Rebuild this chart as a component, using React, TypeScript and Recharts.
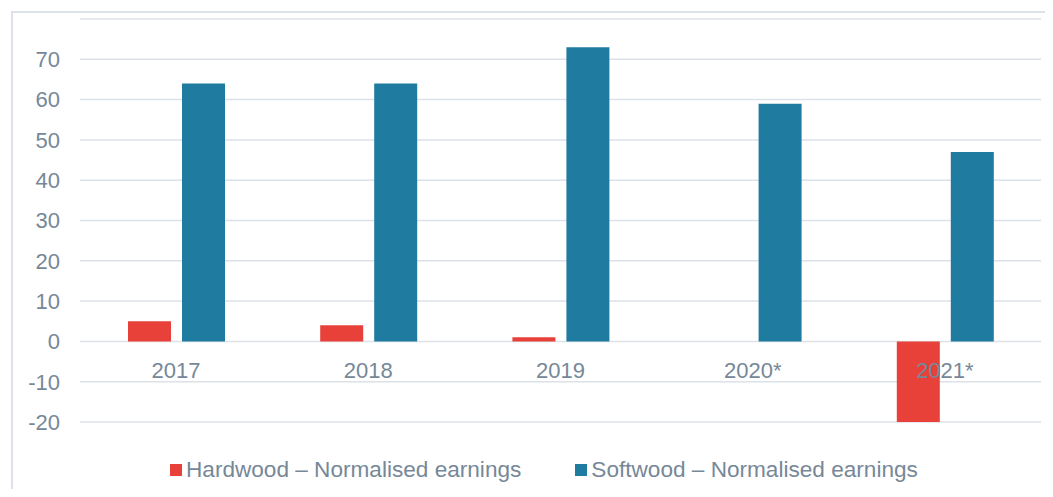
import {
  BarChart,
  Bar,
  XAxis,
  YAxis,
  CartesianGrid,
  Legend,
} from "recharts";

const years = ["2017", "2018", "2019", "2020*", "2021*"];
const hardwood = [5, 4, 1, 0, -20];
const softwood = [64, 64, 73, 59, 47];
const yTicks = [-20, -10, 0, 10, 20, 30, 40, 50, 60, 70];

const data = years.map((year, i) => ({
  year,
  hardwood: hardwood[i],
  softwood: softwood[i],
}));

const RED = "#e8413a";
const BLUE = "#1f7ba0";
const TEXT = "#768898";
const GRID = "#dce2e7";
const FONT = "'Liberation Sans', Arial, sans-serif";

// x labels sit just under the zero line, not at the bottom of the plot
function YearTick(props: any) {
  const { x, y, payload } = props;
  return (
    <text
      x={x}
      y={y - 54}
      textAnchor="middle"
      dominantBaseline="central"
      fill={TEXT}
      fontSize={22}
      fontFamily={FONT}
    >
      {payload.value}
    </text>
  );
}

function LegendBox() {
  const items = [
    { label: "Hardwood \u2013 Normalised earnings", color: RED },
    { label: "Softwood \u2013 Normalised earnings", color: BLUE },
  ];
  return (
    <div
      style={{
        display: "flex",
        alignItems: "center",
        height: 26,
        paddingLeft: 170,
        fontFamily: FONT,
        fontSize: 22.6,
        color: TEXT,
      }}
    >
      {items.map((it, i) => (
        <div
          key={it.label}
          style={{ display: "flex", alignItems: "center", marginLeft: i ? 54 : 0 }}
        >
          <span
            style={{ width: 12, height: 12, background: it.color, marginRight: 4 }}
          />
          <span style={{ whiteSpace: "nowrap" }}>{it.label}</span>
        </div>
      ))}
    </div>
  );
}

export default function App() {
  return (
    <div
      style={{
        margin: -8,
        width: 1053,
        height: 497,
        position: "relative",
        overflow: "hidden",
        background: "#fff",
      }}
    >
      <div
        style={{
          position: "absolute",
          left: 11,
          top: 11,
          width: 1100,
          height: 600,
          border: `2px solid ${GRID}`,
        }}
      />
      <div style={{ position: "absolute", left: 0, top: 0 }}>
        <BarChart
          width={1053}
          height={497}
          data={data}
          margin={{ top: 19, right: 12, bottom: 14, left: 0 }}
          barSize={43}
          barGap={11}
        >
          <CartesianGrid vertical={false} stroke={GRID} strokeWidth={1.5} />
          <XAxis
            dataKey="year"
            axisLine={false}
            tickLine={false}
            tickSize={0}
            height={35}
            tick={<YearTick />}
            interval={0}
          />
          <YAxis
            domain={[-20, 80]}
            ticks={yTicks}
            width={80}
            axisLine={false}
            tickLine={false}
            tickSize={0}
            tickMargin={20}
            tick={{ fill: TEXT, fontSize: 22, fontFamily: FONT }}
          />
          <Legend
            verticalAlign="bottom"
            wrapperStyle={{ left: 0, width: 1053 }}
            content={() => <LegendBox />}
          />
          <Bar dataKey="hardwood" fill={RED} isAnimationActive={false} />
          <Bar dataKey="softwood" fill={BLUE} isAnimationActive={false} />
        </BarChart>
      </div>
    </div>
  );
}
